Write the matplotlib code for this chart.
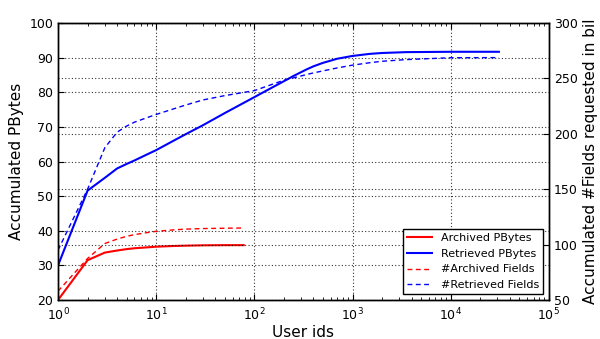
import matplotlib
matplotlib.use("Agg")
import matplotlib.pyplot as plt
from matplotlib.ticker import LogLocator, MultipleLocator

# Archived data (user ids 1..78)
arch_x = [1, 2, 3, 4, 5, 6, 8, 10, 15, 20, 30, 50, 78]
arch_pbytes = [20.0, 31.5, 33.7, 34.3, 34.7, 34.95, 35.2, 35.4, 35.6, 35.7, 35.8, 35.85, 35.85]
arch_fields = [58, 87.5, 101, 105, 107.5, 109, 110.8, 112, 113.3, 114, 114.5, 114.8, 115]

# Retrieved data (user ids 1..31000)
retr_x = [1, 2, 3, 4, 5, 6, 8, 10, 15, 20, 30, 50, 100, 150, 200, 250, 340, 400,
          500, 700, 1000, 1500, 2000, 3500, 10000, 31000]
retr_pbytes = [30.0, 51.6, 55.3, 58.0, 59.3, 60.3, 62.0, 63.3, 66.0, 67.9, 70.5,
               74.0, 78.6, 81.3, 83.2, 84.7, 86.6, 87.5, 88.5, 89.7, 90.5, 91.1,
               91.35, 91.6, 91.7, 91.7]
retr_fields = [95, 150, 187.5, 201.5, 207, 210.5, 214.5, 217.5, 222.5, 226, 230.6,
               234.5, 239, 244.5, 248.4, 250.5, 253.5, 255, 256.8, 259.5, 262, 264.2,
               265.5, 267, 268.7, 268.8]

fig = plt.figure(figsize=(6, 3.39), dpi=100, facecolor="white")
ax = fig.add_axes([0.0967, 0.115, 0.818, 0.817])
ax2 = ax.twinx()

dash = (0, (3.5, 2.5))
l1, = ax.plot(arch_x, arch_pbytes, color="red", lw=1.5, label="Archived PBytes")
l2, = ax.plot(retr_x, retr_pbytes, color="blue", lw=1.5, label="Retrieved PBytes")
l3, = ax2.plot(arch_x, arch_fields, color="red", lw=1.0, ls=dash, label="#Archived Fields")
l4, = ax2.plot(retr_x, retr_fields, color="blue", lw=1.0, ls=dash, label="#Retrieved Fields")

ax.set_xscale("log")
ax.set_xlim(1, 1e5)
ax.set_ylim(20, 100)
ax2.set_ylim(50, 300)
ax.yaxis.set_major_locator(MultipleLocator(10))
ax2.yaxis.set_major_locator(MultipleLocator(50))
ax.xaxis.set_major_locator(LogLocator(base=10, numticks=10))

for a in (ax, ax2):
    a.grid(True, color="black", ls=(0, (1, 2)), lw=0.8, alpha=0.8)
    a.tick_params(direction="in", labelsize=9, length=4)
    a.tick_params(which="minor", direction="in", length=2)
    for s in a.spines.values():
        s.set_linewidth(1.0)
ax.tick_params(top=True, which="both")
ax.tick_params(axis="x", pad=5)
ax.set_axisbelow(True)
ax2.set_axisbelow(True)

ax.set_xlabel("User ids", fontsize=11, labelpad=1)
ax.set_ylabel("Accumulated PBytes", fontsize=11)
ax2.set_ylabel("Accumulated #Fields requested in bil", fontsize=11)

leg = ax2.legend([l1, l2, l3, l4], [l.get_label() for l in (l1, l2, l3, l4)],
                 loc="lower right", fontsize=8, fancybox=False, framealpha=1,
                 edgecolor="black", handlelength=2.2, borderaxespad=0.5)
leg.get_frame().set_linewidth(1.0)

fig.savefig("out.png", dpi=100, facecolor="white")
